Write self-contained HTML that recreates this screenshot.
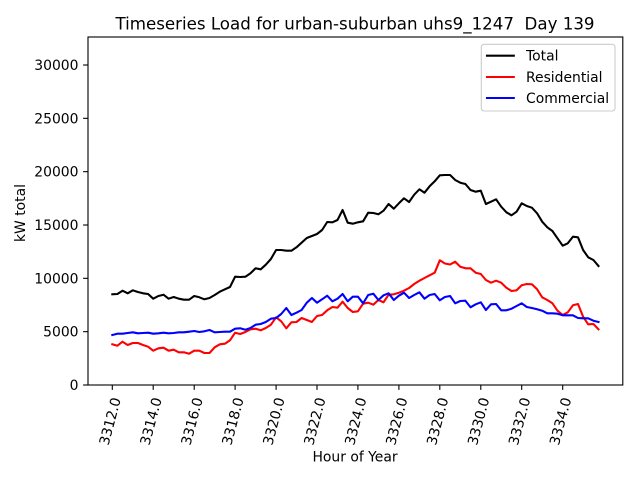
<!DOCTYPE html>
<html>
<head>
<meta charset="utf-8">
<style>
  html, body { margin: 0; padding: 0; background: #ffffff; }
  svg { display: block; }
  text { font-family: "DejaVu Sans", "Liberation Sans", sans-serif; fill: #000; }
</style>
</head>
<body>
<svg width="640" height="480" viewBox="0 0 640 480" xmlns="http://www.w3.org/2000/svg">
  <rect x="0" y="0" width="640" height="480" fill="#ffffff"/>

  <!-- Title -->
  <text x="355" y="29.5" font-size="16.67" text-anchor="middle">Timeseries Load for urban-suburban uhs9_1247&#160; Day 139</text>

  <!-- Series -->
  <g fill="none" stroke-width="2.08" stroke-linejoin="round" stroke-linecap="square">
    <polyline stroke="#000000" points="112.3,294.3 117.4,294 122.5,290.7 127.7,293.3 132.8,290.3 137.9,292 143.0,293.3 148.1,294 153.2,298.7 158.4,296 163.5,294.7 168.6,298.7 173.7,297 178.8,298.7 183.9,299.7 189.1,299.7 194.2,296 199.3,297.3 204.4,299.3 209.5,298 214.7,295 219.8,291.7 224.9,289.3 230.0,287 235.1,276.7 240.2,277 245.4,276.7 250.5,273.3 255.6,268.3 260.7,269.3 265.8,264.7 270.9,259 276.1,250 281.2,250 286.3,250.7 291.4,250.7 296.5,247.3 301.6,242.7 306.8,238 311.9,236 317.0,234 322.1,230 327.2,222 332.4,222.3 337.5,220 342.6,210 347.7,222.7 352.8,223.7 357.9,222.3 363.1,221.3 368.2,212.7 373.3,213 378.4,214.3 383.5,210.7 388.6,204 393.8,208.7 398.9,203.3 404.0,198.3 409.1,202 414.2,194.7 419.4,189.3 424.5,192.7 429.6,186.3 434.7,181.3 439.8,175.3 444.9,175 450.1,175 455.2,180 460.3,182.7 465.4,184 470.5,190 475.7,191.7 480.8,190.7 485.9,204 491.0,201.7 496.1,199.3 501.2,206.7 506.4,212.3 511.5,215.3 516.6,211.7 521.7,203.3 526.8,206 531.9,207.7 537.1,213.3 542.2,221.7 547.3,227.3 552.4,231 557.5,238.3 562.7,245.7 567.8,243.3 572.9,236.7 578.0,237.3 583.1,250 588.2,257.3 593.4,260 598.5,266"/>
    <polyline stroke="#ff0000" points="112.3,344.3 117.4,345.7 122.5,341.7 127.7,345 132.8,343 137.9,343 143.0,345 148.1,346.7 153.2,350.7 158.4,348.3 163.5,347.7 168.6,350.7 173.7,349.7 178.8,352.3 183.9,352.3 189.1,353.7 194.2,350.7 199.3,350.7 204.4,353 209.5,353 214.7,347.3 219.8,344.3 224.9,343.7 230.0,340.3 235.1,332.7 240.2,334 245.4,332 250.5,329.3 255.6,328.7 260.7,330.3 265.8,328 270.9,324.7 276.1,317.3 281.2,321.3 286.3,328.3 291.4,322.3 296.5,322 301.6,318 306.8,320 311.9,322 317.0,316 322.1,315 327.2,310.3 332.4,307 337.5,307.7 342.6,301.7 347.7,308 352.8,312 357.9,311.3 363.1,303.7 368.2,302.7 373.3,304.7 378.4,300 383.5,302.3 388.6,294.7 393.8,294.3 398.9,292.7 404.0,290.7 409.1,288 414.2,284 419.4,280.7 424.5,278 429.6,275.3 434.7,272.7 439.8,260.3 444.9,263.5 450.1,264.5 455.2,261.7 460.3,266.7 465.4,268.3 470.5,268.3 475.7,272.7 480.8,274 485.9,280 491.0,282.7 496.1,280.7 501.2,282.7 506.4,287.7 511.5,291 516.6,290.3 521.7,285.3 526.8,284 531.9,284.3 537.1,289.3 542.2,297.3 547.3,300 552.4,303.3 557.5,310.7 562.7,315 567.8,312.3 572.9,305.3 578.0,304 583.1,316.7 588.2,324.3 593.4,324 598.5,329.3"/>
    <polyline stroke="#0000ff" points="112.3,335 117.4,333.7 122.5,333.7 127.7,333 132.8,332.3 137.9,333.3 143.0,333 148.1,332.7 153.2,333.7 158.4,333.3 163.5,332.7 168.6,333.3 173.7,333 178.8,332.3 183.9,332.3 189.1,331.7 194.2,331 199.3,332 204.4,331.3 209.5,330 214.7,332.3 219.8,332 224.9,331.7 230.0,331.7 235.1,328.7 240.2,328.3 245.4,329.7 250.5,328 255.6,324.7 260.7,324 265.8,322 270.9,318.7 276.1,318 281.2,314 286.3,308 291.4,315 296.5,312.7 301.6,310 306.8,302.7 311.9,298 317.0,302.7 322.1,299.3 327.2,295.7 332.4,301.3 337.5,298.7 342.6,294 347.7,301.3 352.8,296.7 357.9,296.7 363.1,303.3 368.2,295 373.3,293.7 378.4,300 383.5,295.3 388.6,293.3 393.8,300 398.9,295.7 404.0,292.7 409.1,298 414.2,295 419.4,292.3 424.5,298.7 429.6,295 434.7,294 439.8,300.3 444.9,297 450.1,296 455.2,303.3 460.3,301 465.4,300.7 470.5,307.3 475.7,304.3 480.8,302.3 485.9,310 491.0,304.3 496.1,304 501.2,310.3 506.4,310.3 511.5,308.7 516.6,306 521.7,303.3 526.8,307 531.9,308 537.1,309.3 542.2,310.7 547.3,313.3 552.4,313.3 557.5,313.7 562.7,315.3 567.8,315.3 572.9,315.3 578.0,318 583.1,318.3 588.2,318.3 593.4,320.7 598.5,322"/>
  </g>

  <!-- Axes frame -->
  <rect x="88" y="37" width="534.8" height="348" fill="none" stroke="#000" stroke-width="1.1"/>

  <!-- Y ticks -->
  <g stroke="#000" stroke-width="1.1">
    <line x1="83.1" y1="385" x2="88" y2="385"/>
    <line x1="83.1" y1="331.67" x2="88" y2="331.67"/>
    <line x1="83.1" y1="278.33" x2="88" y2="278.33"/>
    <line x1="83.1" y1="225" x2="88" y2="225"/>
    <line x1="83.1" y1="171.67" x2="88" y2="171.67"/>
    <line x1="83.1" y1="118.33" x2="88" y2="118.33"/>
    <line x1="83.1" y1="65" x2="88" y2="65"/>
  </g>
  <g font-size="13.9" text-anchor="end" dominant-baseline="central">
    <text x="78.5" y="386">0</text>
    <text x="78.5" y="332.67">5000</text>
    <text x="78.5" y="279.33">10000</text>
    <text x="78.5" y="226">15000</text>
    <text x="78.5" y="172.67">20000</text>
    <text x="78.5" y="119.33">25000</text>
    <text x="78.5" y="66">30000</text>
  </g>

  <!-- X ticks -->
  <g stroke="#000" stroke-width="1.1">
    <line x1="112.3" y1="385" x2="112.3" y2="389.9"/>
    <line x1="153.2" y1="385" x2="153.2" y2="389.9"/>
    <line x1="194.2" y1="385" x2="194.2" y2="389.9"/>
    <line x1="235.1" y1="385" x2="235.1" y2="389.9"/>
    <line x1="276.1" y1="385" x2="276.1" y2="389.9"/>
    <line x1="317.0" y1="385" x2="317.0" y2="389.9"/>
    <line x1="357.9" y1="385" x2="357.9" y2="389.9"/>
    <line x1="398.9" y1="385" x2="398.9" y2="389.9"/>
    <line x1="439.8" y1="385" x2="439.8" y2="389.9"/>
    <line x1="480.8" y1="385" x2="480.8" y2="389.9"/>
    <line x1="521.7" y1="385" x2="521.7" y2="389.9"/>
    <line x1="562.7" y1="385" x2="562.7" y2="389.9"/>
  </g>
  <g font-size="13.9" text-anchor="middle" dominant-baseline="central">
    <text transform="translate(110.8,421.5) rotate(-75)">3312.0</text>
    <text transform="translate(151.7,421.5) rotate(-75)">3314.0</text>
    <text transform="translate(192.7,421.5) rotate(-75)">3316.0</text>
    <text transform="translate(233.6,421.5) rotate(-75)">3318.0</text>
    <text transform="translate(274.6,421.5) rotate(-75)">3320.0</text>
    <text transform="translate(315.5,421.5) rotate(-75)">3322.0</text>
    <text transform="translate(356.4,421.5) rotate(-75)">3324.0</text>
    <text transform="translate(397.4,421.5) rotate(-75)">3326.0</text>
    <text transform="translate(438.3,421.5) rotate(-75)">3328.0</text>
    <text transform="translate(479.3,421.5) rotate(-75)">3330.0</text>
    <text transform="translate(520.2,421.5) rotate(-75)">3332.0</text>
    <text transform="translate(561.2,421.5) rotate(-75)">3334.0</text>
  </g>

  <!-- Axis labels -->
  <text x="355" y="461.5" font-size="13.9" text-anchor="middle">Hour of Year</text>
  <text transform="translate(25.2,213) rotate(-90)" font-size="13.9" text-anchor="middle">kW total</text>

  <!-- Legend -->
  <rect x="481.3" y="44.3" width="133.7" height="66.7" rx="2.8" ry="2.8" fill="#ffffff" fill-opacity="0.8" stroke="#cccccc" stroke-width="1.1"/>
  <g stroke-width="2.08" stroke-linecap="square">
    <line x1="487" y1="55.7" x2="513.8" y2="55.7" stroke="#000000"/>
    <line x1="487" y1="77" x2="513.8" y2="77" stroke="#ff0000"/>
    <line x1="487" y1="98" x2="513.8" y2="98" stroke="#0000ff"/>
  </g>
  <g font-size="13.9" dominant-baseline="central">
    <text x="526" y="56.7">Total</text>
    <text x="526" y="78">Residential</text>
    <text x="526" y="99">Commercial</text>
  </g>
</svg>
</body>
</html>
